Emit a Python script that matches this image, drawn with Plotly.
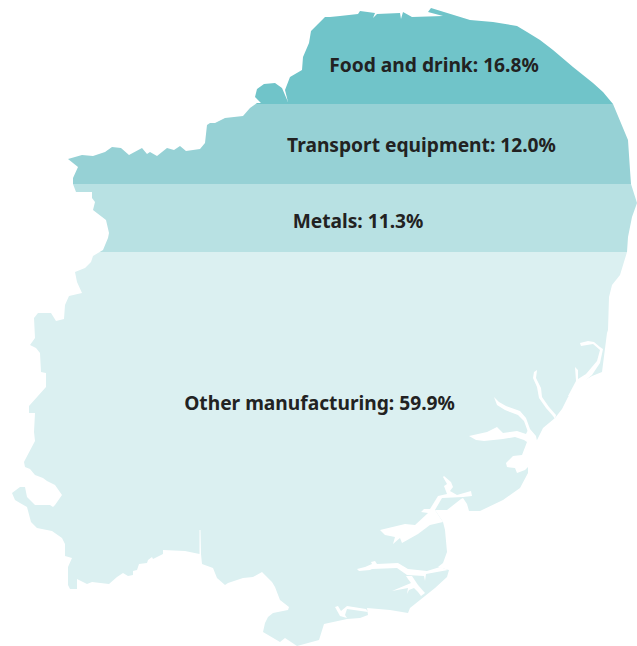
import plotly.graph_objects as go

categories = ["Food and drink", "Transport equipment", "Metals", "Other manufacturing"]
shares = [16.8, 12.0, 11.3, 59.9]
colors = ["#70c4c9", "#96d1d5", "#b8e1e3", "#dbf0f1"]
band_edges = [0, 104, 184, 252, 646]
label_x = [434, 421.5, 358, 319.5]
label_y = [67, 147, 223, 405]

region_outline = [
    (255,97),(257,89),(264,84),(275,83),(282,88),(288,102),(285,90),(290,77),(302,70),(303,57),(309,43),(311,31),
    (325,17),(330,17),(340,16),(358,14),(360,11),(375,13),(373,18),(377,14),(400,13),(401,19),(403,12),(412,17),
    (443,16),(428,12),(431,8),(453,15),(470,20),(493,22),(517,26),(527,32),(540,40),(553,50),(573,67),(593,83),(603,92),(613,104),
    (620,120),(628,140),(630,170),(631,184),(637,203),(632,217),(628,237),(627,252),(620,275),(612,285),(609,297),
    (608,330),(607,333),(602,372),(592,376),(580,383),(568,397),(562,409),(555,418),(543,428),(537,440),(528,465),
    (528,473),(520,488),(503,500),(480,511),(469,511),(467,504),(463,498),(461,499),(447,510),(435,510),(443,522),
    (445,530),(446,547),(447,552),(443,563),(438,567),(449,570),(447,577),(435,588),(420,600),(410,608),(408,613),
    (390,610),(367,608),(368,615),(360,618),(347,619),(324,624),(319,640),(297,646),(285,638),(280,642),(263,632),
    (265,623),(268,617),(273,613),(288,610),(289,607),(280,600),(275,587),(272,582),(262,572),(253,577),(243,578),
    (228,583),(225,585),(217,578),(213,568),(202,564),(201,554),(200.5,530),(199.5,530),(199.5,554),(185,551),(163,550),
    (163,554),(153,559),(152,557),(148,560),(147,563),(139,564),(137,570),(133,571),(133,575),(128,576),(123,573),
    (117,577),(109,584),(92,582),(87,584),(77,579),(77,589),(70,589),(68,585),(68,567),(72,558),(65,556),(65,544),
    (62,538),(52,531),(37,528),(31,522),(27,507),(20,503),(15,500),(12,493),(20,487),(25,487),(27,497),(35,505),
    (50,505),(53,507),(55,505),(62,495),(55,485),(47,481),(43,478),(35,475),(30,469),(25,467),(24,462),(25,460),
    (35,441),(34,432),(35,413),(29,413),(29,406),(46,387),(46,373),(41,372),(40,353),(36,348),(30,345),(35,338),
    (34,318),(38,313),(51,313),(56,321),(64,319),(65,305),(69,296),(82,293),(77,282),(75,272),(85,268),(91,262),
    (93,256),(103,250),(108,238),(109,233),(106,220),(93,210),(95,202),(92,198),(92,192),(76,192),(73,184),(73,178),
    (78,167),(68,159),(82,155),(93,156),(105,152),(112,147),(121,148),(129,155),(142,148),(147,154),(150,152),
    (157,156),(167,148),(174,150),(180,146),(186,151),(200,149),(205,143),(207,125),(210,123),(215,123),(225,118),
    (243,116),(250,108),(257,103),(261,103),(256,98),
]

estuary_orwell = [(494,397),(499,402),(506,406),(520,411),(526,418),(530,429),(536,436),(537,441),(533,442),(528,432),
                  (524,421),(518,415),(505,410),(497,405)]
estuary_stour = [(469,436),(487,432),(497,427),(503,433),(517,431),(526,434),(528,430),(537,441),(535,455),(529,466),
                 (525,470),(517,473),(515,468),(507,467),(506,463),(513,456),(522,455),(527,442),(524,440),(515,437),
                 (503,439),(490,440),(484,441),(476,440)]
estuary_deben = [(537,370),(534,372),(533,378),(537,387),(539,398),(546,408),(553,416),(555,419),(556,415),(549,407),
                 (542,397),(541,388),(536,378)]
estuary_alde = [(580,343),(581,346),(593,344),(600,350),(597,361),(588,371),(586,374),(578,379),(578,370),(575,367),
                (576,381),(568,396),(570,396),(580,385),(590,377),(592,375),(600,363),(603,349),(600,347),(594,342),(588,341)]
estuary_blackwater = [(380,530),(393,527),(405,524),(415,525),(428,513),(421,512),(424,509),(430,509),(438,496),(447,494),
                      (444,486),(447,484),(443,477),(444,476),(451,482),(453,487),(450,491),(457,495),(471,491),(472,496),
                      (463,497),(442,498),(435,510),(443,522),(430,525),(418,534),(402,543),(400,538),(393,544),(395,537),(385,535)]
estuary_crouch = [(357,569),(365,567),(372,564),(371,562),(375,561),(377,564),(398,563),(408,569),(427,571),(440,567),
                  (448,570),(426,574),(425,581),(424,576),(407,575),(397,568),(372,569),(370,570),(359,571)]
estuary_roach = [(406,576),(412,576),(418,585),(423,590),(425,593),(421,596),(418,592),(414,588),(409,590),(407,594),
                 (408,588),(392,591),(406,585),(411,583),(408,579)]
estuary_foulness = [(335,607),(338,606),(341,611),(347,606),(366,609),(368,612),(347,609),(345,615),(347,618),(340,616)]
estuaries = [estuary_orwell, estuary_stour, estuary_deben, estuary_alde, estuary_blackwater,
             estuary_crouch, estuary_roach, estuary_foulness]


def clip_half(points, limit, keep_below):
    inside = (lambda p: p[1] >= limit) if keep_below else (lambda p: p[1] <= limit)
    result = []
    for i, cur in enumerate(points):
        prev = points[i - 1]
        if inside(cur) != inside(prev):
            t = (limit - prev[1]) / (cur[1] - prev[1])
            result.append((prev[0] + t * (cur[0] - prev[0]), limit))
        if inside(cur):
            result.append(cur)
    return result


def polygon_trace(points, color):
    closed = list(points) + [points[0]]
    return go.Scatter(x=[p[0] for p in closed], y=[p[1] for p in closed], mode="lines", fill="toself",
                      fillcolor=color, line=dict(width=0), hoverinfo="skip", showlegend=False)


fig = go.Figure()
for i, color in enumerate(colors):
    band = clip_half(clip_half(region_outline, band_edges[i], True), band_edges[i + 1], False)
    fig.add_trace(polygon_trace(band, color))
for estuary in estuaries:
    fig.add_trace(polygon_trace(estuary, "#ffffff"))

fig.add_trace(go.Scatter(
    x=label_x, y=label_y, mode="text",
    text=[f"{c}: {s:.1f}%" for c, s in zip(categories, shares)],
    textposition="middle center",
    textfont=dict(family="Noto Sans", size=19.2, color="#222222", weight="bold"),
    hoverinfo="skip", showlegend=False,
))

fig.update_layout(
    width=637, height=646, margin=dict(l=0, r=0, t=0, b=0),
    paper_bgcolor="#ffffff", plot_bgcolor="#ffffff",
    xaxis=dict(range=[0, 637], visible=False, fixedrange=True),
    yaxis=dict(range=[646, 0], visible=False, fixedrange=True),
)
fig.write_html("out.html", config={"displayModeBar": False},
               post_script="document.body.style.margin='0';document.documentElement.style.overflow='hidden';")
